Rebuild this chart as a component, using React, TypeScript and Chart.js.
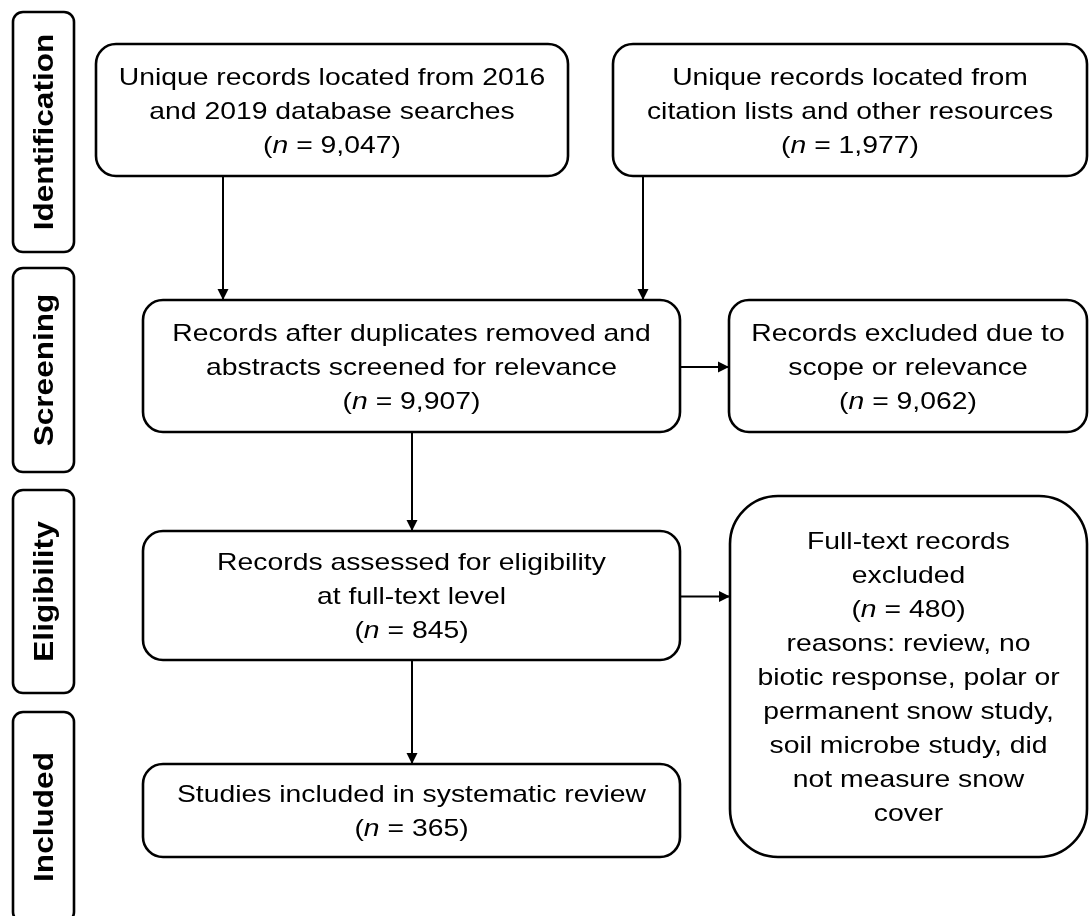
import React, { useEffect, useRef } from "react";
import { Chart, registerables } from "chart.js";

Chart.register(...registerables);

// ---------- DATA ----------
const stageLabels = ["Identification", "Screening", "Eligibility", "Included"];

const boxText: string[][] = [
  ["Unique records located from 2016", "and 2019 database searches"],
  ["Unique records located from", "citation lists and other resources"],
  ["Records after duplicates removed and", "abstracts screened for relevance"],
  ["Records excluded due to", "scope or relevance"],
  ["Records assessed for eligibility", "at full-text level"],
  ["Full-text records", "excluded"],
  ["Studies included in systematic review"],
];

const boxCounts = [9047, 1977, 9907, 9062, 845, 480, 365];

const boxNotes: string[][] = [
  [],
  [],
  [],
  [],
  [],
  [
    "reasons: review, no",
    "biotic response, polar or",
    "permanent snow study,",
    "soil microbe study, did",
    "not measure snow",
    "cover",
  ],
  [],
];

// flows: [from box, to box]
const flows = [
  [0, 2],
  [1, 2],
  [2, 3],
  [2, 4],
  [4, 5],
  [4, 6],
];

// ---------- LAYOUT / STYLE ----------
const W = 1089;
const H = 916;
const STAGE_BOXES = [
  { x0: 13, x1: 74, y0: 12, y1: 252 },
  { x0: 13, x1: 74, y0: 268, y1: 472 },
  { x0: 13, x1: 74, y0: 490, y1: 693 },
  { x0: 13, x1: 74, y0: 712, y1: 922 },
];
const BOXES = [
  { x0: 96, x1: 568, y0: 44, y1: 176, r: 20 },
  { x0: 613, x1: 1087, y0: 44, y1: 176, r: 20 },
  { x0: 143, x1: 680, y0: 300, y1: 432, r: 20 },
  { x0: 729, x1: 1087, y0: 300, y1: 432, r: 20 },
  { x0: 143, x1: 680, y0: 531, y1: 660, r: 20 },
  { x0: 730, x1: 1087, y0: 496, y1: 857, r: 48 },
  { x0: 143, x1: 680, y0: 764, y1: 857, r: 20 },
];
// x position for vertical flows (null = horizontal flow at source centre)
const FLOW_X: (number | null)[] = [223, 643, null, 412, null, 412];

const FONT_FAMILY = '"Liberation Sans", Arial, Helvetica, sans-serif';
const FONT_SIZE = 24;
const LINE_H = 34;
const SX = 1.18;
const STAGE_FONT = 27;
const STAGE_SX = 1.17;

function flowPoints(i: number) {
  const [a, b] = flows[i];
  const s = BOXES[a];
  const t = BOXES[b];
  const fx = FLOW_X[i];
  if (fx !== null) {
    return [
      { x: fx, y: s.y1 },
      { x: fx, y: t.y0 },
    ];
  }
  const cy = (s.y0 + s.y1) / 2 + 1;
  return [
    { x: s.x1, y: cy },
    { x: t.x0, y: cy },
  ];
}

type Seg = { t: string; it: boolean };

function countLine(n: number): Seg[] {
  return [
    { t: "(", it: false },
    { t: "n", it: true },
    { t: " = " + n.toLocaleString("en-US") + ")", it: false },
  ];
}

function roundRect(ctx: CanvasRenderingContext2D, x0: number, y0: number, x1: number, y1: number, r: number) {
  ctx.beginPath();
  ctx.moveTo(x0 + r, y0);
  ctx.lineTo(x1 - r, y0);
  ctx.arcTo(x1, y0, x1, y0 + r, r);
  ctx.lineTo(x1, y1 - r);
  ctx.arcTo(x1, y1, x1 - r, y1, r);
  ctx.lineTo(x0 + r, y1);
  ctx.arcTo(x0, y1, x0, y1 - r, r);
  ctx.lineTo(x0, y0 + r);
  ctx.arcTo(x0, y0, x0 + r, y0, r);
  ctx.closePath();
}

function drawSegs(ctx: CanvasRenderingContext2D, segs: Seg[], cx: number, cy: number) {
  const fN = `${FONT_SIZE}px ${FONT_FAMILY}`;
  const fI = `italic ${FONT_SIZE}px ${FONT_FAMILY}`;
  let w = 0;
  for (const s of segs) {
    ctx.font = s.it ? fI : fN;
    w += ctx.measureText(s.t).width;
  }
  ctx.save();
  ctx.translate(cx, cy + 8.5);
  ctx.scale(SX, 1);
  let x = -w / 2;
  ctx.textAlign = "left";
  ctx.textBaseline = "alphabetic";
  for (const s of segs) {
    ctx.font = s.it ? fI : fN;
    ctx.fillText(s.t, x, 0);
    x += ctx.measureText(s.t).width;
  }
  ctx.restore();
}

const flowPlugin = {
  id: "flowPlugin",
  afterDatasetsDraw(chart: any) {
    const { ctx, scales } = chart;
    const xs = scales.x;
    const ys = scales.y;
    const px = (v: number) => xs.getPixelForValue(v);
    const py = (v: number) => ys.getPixelForValue(v);
    ctx.save();
    ctx.fillStyle = "#000";
    ctx.strokeStyle = "#000";

    // arrowheads
    chart.data.datasets.forEach((ds: any) => {
      const pts = ds.data;
      const a = pts[pts.length - 2];
      const b = pts[pts.length - 1];
      const ax = px(a.x), ay = py(a.y), bx = px(b.x), by = py(b.y);
      const ang = Math.atan2(by - ay, bx - ax);
      const L = 11, hw = 5.5;
      ctx.beginPath();
      ctx.moveTo(bx, by);
      ctx.lineTo(bx - L * Math.cos(ang) + hw * Math.sin(ang), by - L * Math.sin(ang) - hw * Math.cos(ang));
      ctx.lineTo(bx - L * Math.cos(ang) - hw * Math.sin(ang), by - L * Math.sin(ang) + hw * Math.cos(ang));
      ctx.closePath();
      ctx.fill();
    });

    // stage boxes
    ctx.lineWidth = 2.6;
    stageLabels.forEach((lab, i) => {
      const b = STAGE_BOXES[i];
      const x0 = px(b.x0), x1 = px(b.x1), y0 = py(b.y0), y1 = py(b.y1);
      ctx.fillStyle = "#fff";
      roundRect(ctx, x0, y0, x1, y1, 10);
      ctx.fill();
      ctx.stroke();
      ctx.fillStyle = "#000";
      ctx.save();
      const cx = (x0 + x1) / 2;
      const cy = (y0 + y1) / 2;
      ctx.translate(cx + 9.5, cy);
      ctx.rotate(-Math.PI / 2);
      ctx.scale(STAGE_SX, 1);
      ctx.font = `bold ${STAGE_FONT}px ${FONT_FAMILY}`;
      ctx.textAlign = "center";
      ctx.textBaseline = "alphabetic";
      ctx.fillText(lab, 0, 0);
      ctx.restore();
    });

    // content boxes
    BOXES.forEach((b, i) => {
      const x0 = px(b.x0), x1 = px(b.x1), y0 = py(b.y0), y1 = py(b.y1);
      ctx.fillStyle = "#fff";
      roundRect(ctx, x0, y0, x1, y1, b.r);
      ctx.fill();
      ctx.stroke();
      ctx.fillStyle = "#000";
      const lines: Seg[][] = [];
      boxText[i].forEach((t) => lines.push([{ t, it: false }]));
      lines.push(countLine(boxCounts[i]));
      boxNotes[i].forEach((t) => lines.push([{ t, it: false }]));
      const cx = (x0 + x1) / 2;
      const cy = (y0 + y1) / 2;
      const start = cy - ((lines.length - 1) * LINE_H) / 2;
      lines.forEach((segs, k) => drawSegs(ctx, segs, cx, start + k * LINE_H));
    });
    ctx.restore();
  },
};

export default function App() {
  const ref = useRef<HTMLCanvasElement | null>(null);
  useEffect(() => {
    document.body.style.margin = "0";
    const canvas = ref.current;
    if (!canvas) return;
    const datasets = flows.map((f, i) => ({
      label: `flow ${f[0]}-${f[1]}`,
      data: flowPoints(i),
      showLine: true,
      borderColor: "#000",
      borderWidth: 2,
      pointRadius: 0,
      fill: false,
    }));
    const chart = new Chart(canvas, {
      type: "scatter",
      data: { datasets },
      options: {
        animation: false,
        responsive: false,
        maintainAspectRatio: false,
        devicePixelRatio: 1,
        layout: { padding: 0 },
        plugins: {
          legend: { display: false },
          tooltip: { enabled: false },
          title: { display: false },
        },
        scales: {
          x: { type: "linear", min: 0, max: W, display: false },
          y: { type: "linear", min: 0, max: H, reverse: true, display: false },
        },
        events: [],
      },
      plugins: [flowPlugin],
    });
    return () => chart.destroy();
  }, []);
  return (
    <div style={{ position: "absolute", left: 0, top: 0, width: W, height: H, background: "#fff" }}>
      <canvas ref={ref} width={W} height={H} style={{ display: "block", width: W, height: H }} />
    </div>
  );
}
